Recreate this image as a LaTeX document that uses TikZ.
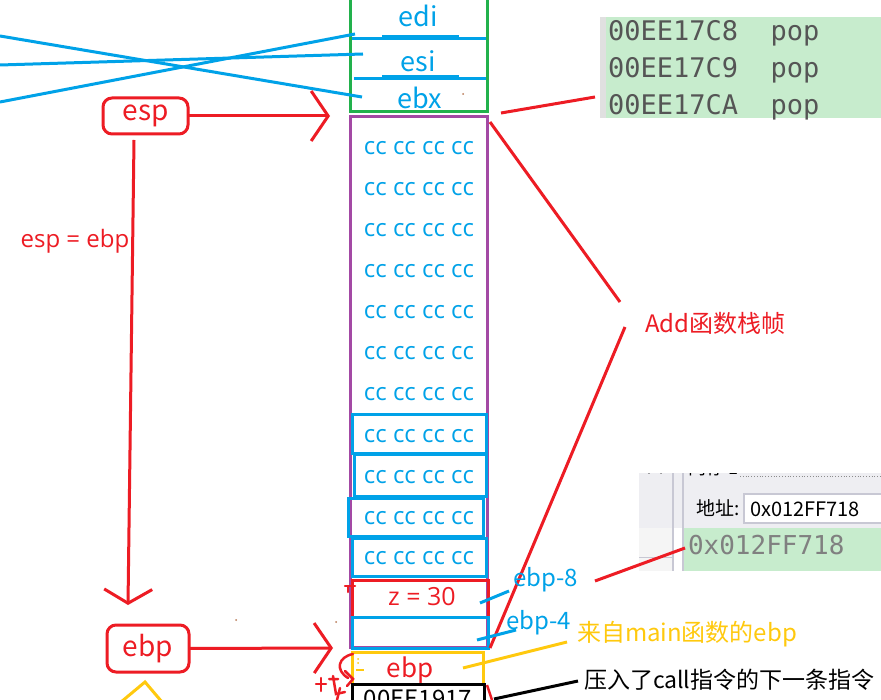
\documentclass[tikz,border=0pt]{standalone}
\usepackage{fontspec}
\setmainfont{Noto Sans CJK SC}
\newfontfamily\monofont{DejaVu Sans Mono}
\newfontfamily\widefont{Open Sans}
\usetikzlibrary{arrows.meta}
\definecolor{rd}{RGB}{237,28,36}
\definecolor{bl}{RGB}{0,162,232}
\definecolor{gn}{RGB}{34,177,76}
\definecolor{pu}{RGB}{163,73,164}
\definecolor{yl}{RGB}{255,201,14}
\definecolor{hl}{RGB}{199,236,205}
\definecolor{monotext}{RGB}{85,85,85}
\definecolor{memtext}{RGB}{128,128,128}
\definecolor{winbg}{RGB}{238,238,242}
\definecolor{winline}{RGB}{200,200,212}
\definecolor{speck}{RGB}{185,122,87}
\begin{document}
\begin{tikzpicture}[x=1pt,y=-1pt,
  every node/.style={inner sep=0pt,outer sep=0pt},
  fs/.style={font=\fontsize{#1}{#1}\selectfont},
  wfs/.style={font=\widefont\fontsize{#1}{#1}\selectfont},
  regtxt/.style={text=bl,fs=27},
  cctxt/.style={text=bl,wfs=24},
  cellbox/.style={draw=bl,line width=3pt,minimum width=134pt,minimum height=38pt},
  regbox/.style={draw=rd,line width=3pt,rounded corners=9pt,text=rd,fs=28},
  redline/.style={draw=rd,line width=3pt},
  blueline/.style={draw=bl,line width=3pt},
  chev/.style={-{Straight Barb[length=17pt,width=50pt]}},
  monoline/.style={font=\monofont\fontsize{27}{27}\selectfont,text=monotext,anchor=west},
  lbl/.style={fs=24,anchor=west}
]
\useasboundingbox (0,0) rectangle (881,700);
\clip (0,0) rectangle (881,700);
\fill[white] (0,0) rectangle (881,700);

% ---------------- saved registers (green box) ----------------
\node[draw=gn,line width=3pt,minimum width=137pt,minimum height=117pt] (greenbox) at (418.5,53.5) {};
\node[regtxt] (edi) at (418,16) {edi};
\node[regtxt] (esi) at (418,61) {esi};
\node[regtxt] (ebx) at (420,98) {ebx};
\draw[blueline] (352,39) -- (486,39);
\fill[bl] (382,35) rectangle (459,40);
\draw[blueline] (354,79) -- (486,79);
\fill[bl] (382,75) rectangle (459,80);

% crossing lines from the left
\coordinate (la) at (0,36);
\coordinate (lb) at (0,65);
\coordinate (lc) at (0,102);
\coordinate (ebxIn) at (362,97);
\coordinate (esiIn) at (363,54);
\coordinate (ediIn) at (355,34);
\draw[blueline] (la) -- (ebxIn);
\draw[blueline] (lb) -- (esiIn);
\draw[blueline] (lc) -- (ediIn);

% ---------------- Add stack frame ----------------
\node[draw=pu,line width=3pt,minimum width=137pt,minimum height=530pt] (frame) at (418.5,382) {};
\foreach \i/\yy in {1/148,2/189,3/230,4/271,5/312,6/353,7/394}
  \node[cctxt] (cc\i) at (419,\yy) {cc cc cc cc};

\node[cellbox] (c1) at (419,434) {};
\node[cctxt] (c1t) at (419,436) {cc cc cc cc};
\node[cellbox,minimum width=132pt,minimum height=42pt] (c2) at (420,475) {};
\node[cctxt] (c2t) at (419,477) {cc cc cc cc};
\node[cellbox,minimum width=135pt] (c3) at (415.5,517) {};
\node[cctxt] (c3t) at (419,518) {cc cc cc cc};
\node[cellbox] (c4) at (419,557) {};
\node[cctxt] (c4t) at (419,558) {cc cc cc cc};
\node[draw=rd,line width=3pt,minimum width=136pt,minimum height=37pt] (zbox) at (420,598.5) {};
\node[text=rd,wfs=25] (zt) at (422,597) {z = 30};
\node[draw=bl,line width=3pt,minimum width=136pt,minimum height=31pt] (e4box) at (420,632.5) {};
\node[draw=yl,line width=3pt,minimum width=131pt,minimum height=32pt] (ybox) at (417.5,668) {};
\node[text=rd,fs=26] (ebpt) at (410,670) {ebp};
\node[draw=black,line width=3pt,minimum width=132pt,minimum height=40pt] (blk) at (418,704) {};
\node[fs=24,anchor=base] (blkt) at (418,707) {00EE1917};

% small marks in the yellow box
\draw[yl,line width=2pt] (356,670) -- (364,670);
\fill[yl] (358,659) circle (1pt) (358,663) circle (1pt);

% ---------------- esp / ebp registers ----------------
\node[regbox,minimum width=85pt,minimum height=36pt] (esp) at (145.5,116) {esp};
\coordinate (espT) at (330,116);
\draw[redline,chev] (esp.east) -- (espT);
\coordinate (vTop) at (134,140);
\coordinate (vBot) at (128,605);
\draw[redline,-{Straight Barb[length=14pt,width=48pt]}] (vTop) -- (vBot);
\node[text=rd,wfs=24] (eqlbl) at (75,241) {esp = ebp};

\node[regbox,minimum width=82pt,minimum height=47pt] (ebp) at (148,648.5) {ebp};
\coordinate (ebpT) at (333,648);
\draw[redline,chev] (ebp.east) -- (ebpT);

% yellow arrow head below ebp box
\coordinate (yA) at (121,702);
\coordinate (yB) at (145,682);
\coordinate (yC) at (162,702);
\draw[yl,line width=3pt] (yA) -- (yB) -- (yC);

% red scribbles left of the yellow box
\draw[redline,line width=2.5pt,line cap=round] (353,654) .. controls (338,657) and (335,670) .. (348,678);
\draw[redline,line width=2.5pt,line cap=round] (345,671) -- (353,679) -- (347,686);
\draw[redline,line width=2.5pt,line cap=round] (316,684) -- (326,684) (321,678) -- (321,691);
\draw[redline,line width=2.5pt,line cap=round] (329,679) -- (338,679) (333,676) -- (336,694) -- (345,692);
\draw[redline,line width=2.5pt,line cap=round] (340,688) -- (337,700);
\draw[redline,line width=2.5pt,line cap=round] (345,586) -- (355,586) (348,586) -- (348,592);
\draw[redline,line width=2.5pt] (487,685) -- (492,700);

% specks
\fill[speck] (463,94) circle (1pt) (236,620) circle (1pt) (336,622) circle (1pt);

% ---------------- debugger panes ----------------
\node[fill=hl,minimum width=281pt,minimum height=101pt] (popbox) at (740.5,67.5) {};
\fill[black!12] (600,17) rectangle (606,118);
\node[monoline] (p1) at (608,33) {00EE17C8\ \ pop};
\node[monoline] (p2) at (608,70) {00EE17C9\ \ pop};
\node[monoline] (p3) at (608,107) {00EE17CA\ \ pop};

\coordinate (popA) at (501,113);
\coordinate (popB) at (595,97);
\draw[redline] (popA) -- (popB);

% memory window
\fill[winbg] (639,473) rectangle (881,528);
\fill[black!4] (639,528) rectangle (673,571);
\draw[winline,line width=0.8pt] (639,557) -- (673,557);
\draw[winline,line width=2pt] (673,473) -- (673,571);
\draw[winline,line width=1.5pt] (683,473) -- (683,571);
\node[fill=hl,minimum width=197pt,minimum height=43pt] (mem) at (782.5,549.5) {};
\node[fill=white,draw=winline,line width=1.5pt,minimum width=140pt,minimum height=29pt] (addr) at (814,508.5) {};
\node[fs=19,anchor=west] (addrlbl) at (696,508) {地址:};
\node[fs=20,anchor=west] (addrval) at (750,509) {0x012FF718};
\begin{scope}
  \clip (639,473) rectangle (881,571);
  \node[fs=22] (closex) at (655,468) {×};
  \node[fs=18,anchor=west] (memtitle) at (688,468) {内存 1};
  \draw[black!45,line width=0.8pt,dotted] (740,476) -- (881,476);
  \node[font=\monofont\fontsize{26}{26}\selectfont,text=memtext,anchor=west] (m1) at (688,545) {0x012FF718};
  \node[font=\monofont\fontsize{26}{26}\selectfont,text=memtext,anchor=west] (m2) at (688,585) {0x012FF71C};
\end{scope}

% ---------------- labels on the right ----------------
\node[text=rd,lbl] (addlbl) at (645,323) {Add函数栈帧};
\coordinate (addA) at (620,302);
\coordinate (addB) at (625,327);
\draw[redline] (frame.north east) ++(3,5) -- (addA);
\draw[redline] (addB) -- (490,648);

\node[text=bl,lbl] (e8) at (513,580) {ebp-8};
\coordinate (e8in) at (480,603);
\coordinate (e8out) at (509,591);
\draw[blueline] (e8in) -- (e8out);
\coordinate (memA) at (595,581);
\coordinate (memB) at (685,548);
\draw[redline] (memA) -- (memB);

\node[text=bl,lbl] (e4) at (506,623) {ebp-4};
\coordinate (e4in) at (477,640);
\coordinate (e4out) at (516,630);
\draw[blueline] (e4in) -- (e4out);

\node[text=yl,lbl] (mainlbl) at (577,634) {来自main函数的ebp};
\coordinate (yin) at (463,668);
\coordinate (yout) at (567,642);
\draw[yl,line width=3pt] (yin) -- (yout);

\node[fs=23,anchor=west] (calllbl) at (584,680) {压入了call指令的下一条指令};
\coordinate (kin) at (494,699);
\coordinate (kout) at (578,681);
\draw[black,line width=3pt] (kin) -- (kout);
\end{tikzpicture}
\end{document}
